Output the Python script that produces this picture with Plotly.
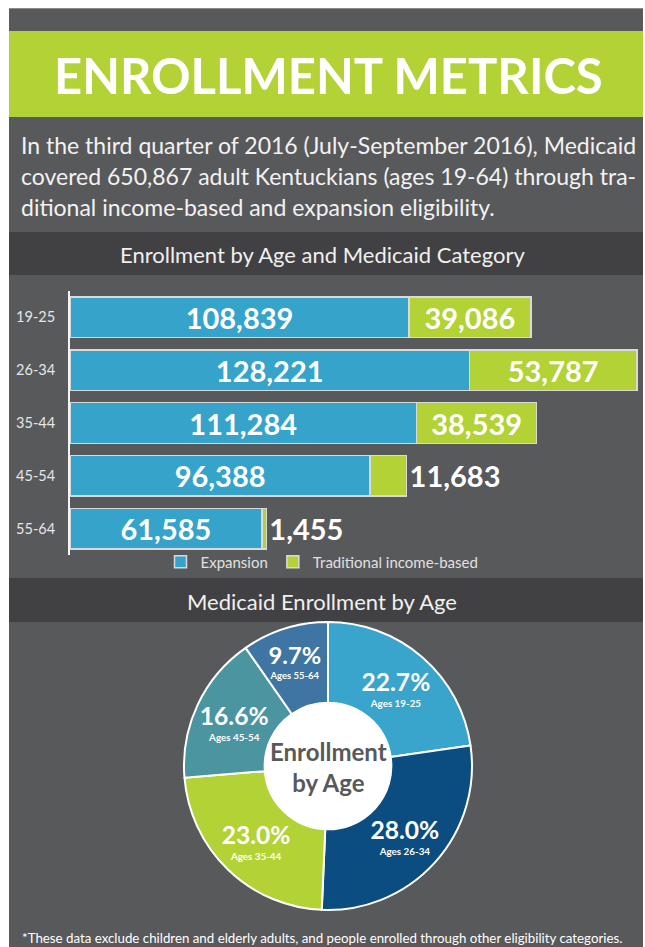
import plotly.graph_objects as go

# ---------------- data ----------------
age_groups = ["19-25", "26-34", "35-44", "45-54", "55-64"]
expansion = [108839, 128221, 111284, 96388, 61585]
traditional = [39086, 53787, 38539, 11683, 1455]
trad_text_pos = ["inside", "inside", "inside", "outside", "outside"]
pie_labels = ["Ages 19-25", "Ages 26-34", "Ages 35-44", "Ages 45-54", "Ages 55-64"]
pie_values = [e + t for e, t in zip(expansion, traditional)]  # totals per age group

title_text = "ENROLLMENT METRICS"
intro_lines = [
    "In the third quarter of 2016 (July-September 2016), Medicaid",
    "covered 650,867 adult Kentuckians (ages 19-64) through tra-",
    "ditional income-based and expansion eligibility.",
]
bar_header = "Enrollment by Age and Medicaid Category"
pie_header = "Medicaid Enrollment by Age"
center_text = "Enrollment<br>by Age"
footnote = "*These data exclude children and elderly adults, and people enrolled through other eligibility categories."

# ---------------- style ----------------
W, H = 645, 947
GREY = "#58595b"
DARK = "#414042"
GREEN = "#b2d235"
BLUE = "#36a4ca"
PIE_COLORS = ["#39a5cc", "#0b4d80", "#b2d235", "#4a95a0", "#3e75a3"]
BODY = "Lato, 'Open Sans', sans-serif"


def px(x):
    return x / W


def py(y):
    return 1 - y / H


fig = go.Figure()

fig.add_trace(go.Bar(
    y=age_groups, x=expansion, orientation="h", name="Expansion",
    marker=dict(color=BLUE, line=dict(color="#d9d9d9", width=1.5)),
    text=[f"{v:,}" for v in expansion], texttemplate="<b>%{text}</b>", textposition="inside",
    insidetextanchor="middle", constraintext="none",
    textfont=dict(family=BODY, size=29, color="white"),
    hoverinfo="skip", cliponaxis=False,
))
fig.add_trace(go.Bar(
    y=age_groups, x=traditional, orientation="h", name="Traditional income-based",
    marker=dict(color=GREEN, line=dict(color="#d9d9d9", width=1.5)),
    text=[f"{v:,}" for v in traditional], texttemplate="<b>%{text}</b>", textposition=trad_text_pos,
    insidetextanchor="middle", constraintext="none",
    textfont=dict(family=BODY, size=29, color="white"),
    outsidetextfont=dict(family=BODY, size=29, color="white"),
    hoverinfo="skip", cliponaxis=False,
))

fig.add_trace(go.Pie(
    labels=pie_labels, values=pie_values, sort=False, direction="clockwise",
    rotation=0, hole=0.44,
    marker=dict(colors=PIE_COLORS, line=dict(color="white", width=2)),
    texttemplate="<span style='font-size:25px'><b>%{percent:.1%}</b></span><br>"
                 "<span style='font-size:10px'><b>%{label}</b></span>",
    textposition="inside", insidetextorientation="horizontal",
    textfont=dict(family=BODY, size=12, color="white"),
    domain=dict(x=[px(184), px(472)], y=[py(910), py(622)]),
    showlegend=False, hoverinfo="skip",
))

shapes = [
    dict(type="rect", xref="paper", yref="paper", x0=px(9), x1=px(643), y0=0, y1=py(8),
         fillcolor=GREY, line=dict(width=0), layer="below"),
    dict(type="line", xref="paper", yref="paper", x0=px(9), x1=px(643), y0=py(8.5), y1=py(8.5),
         line=dict(color="#8a8b8d", width=1), layer="below"),
    dict(type="rect", xref="paper", yref="paper", x0=px(9), x1=px(643), y0=py(117), y1=py(31),
         fillcolor=GREEN, line=dict(width=0), layer="below"),
    dict(type="rect", xref="paper", yref="paper", x0=px(9), x1=px(643), y0=py(275), y1=py(232),
         fillcolor=DARK, line=dict(width=0), layer="below"),
    dict(type="rect", xref="paper", yref="paper", x0=px(9), x1=px(643), y0=py(622), y1=py(578),
         fillcolor=DARK, line=dict(width=0), layer="below"),
    dict(type="circle", xref="paper", yref="paper", x0=px(265), x1=px(391), y0=py(829), y1=py(703),
         fillcolor="white", line=dict(width=0), layer="below"),
]

annotations = [
    dict(text=f"<b>{title_text}</b>", x=px(329), y=py(75), xref="paper", yref="paper",
         showarrow=False, font=dict(family=BODY, size=49, color="white"), xanchor="center", yanchor="middle"),
    dict(text=bar_header, x=px(322), y=py(255), xref="paper", yref="paper",
         showarrow=False, font=dict(family=BODY, size=22, color="#f0f0f0"), xanchor="center", yanchor="middle"),
    dict(text=pie_header, x=px(322), y=py(601), xref="paper", yref="paper",
         showarrow=False, font=dict(family=BODY, size=22, color="#f0f0f0"), xanchor="center", yanchor="middle"),
    dict(text=f"<b>{center_text}</b>", x=px(328), y=py(767), xref="paper", yref="paper",
         showarrow=False, font=dict(family=BODY, size=24, color="#58595b"), xanchor="center", yanchor="middle"),
    dict(text=footnote, x=px(20), y=py(938), xref="paper", yref="paper",
         showarrow=False, font=dict(family=BODY, size=13.3, color="white"), xanchor="left", yanchor="middle"),
]
for i, line in enumerate(intro_lines):
    annotations.append(dict(text=line, x=px(19), y=py(145 + 31 * i), xref="paper", yref="paper",
                            showarrow=False, font=dict(family=BODY, size=23, color="#f2f2f2"),
                            xanchor="left", yanchor="middle"))

fig.update_layout(
    width=W, height=H, margin=dict(l=0, r=0, t=0, b=0),
    paper_bgcolor="white", plot_bgcolor="rgba(0,0,0,0)",
    barmode="stack", bargap=0.23,
    xaxis=dict(domain=[px(70), px(640)], range=[0, 183000], visible=False, fixedrange=True),
    yaxis=dict(domain=[py(555), py(291)], categoryorder="array", categoryarray=age_groups,
               autorange="reversed", showline=True, linecolor="#f5f5f5", linewidth=2,
               showgrid=False, zeroline=False, ticks="", ticklabelstandoff=10,
               tickfont=dict(family=BODY, size=14.5, color="#e6e6e6"), fixedrange=True),
    legend=dict(orientation="h", x=px(322), xanchor="center", y=py(562), yanchor="middle",
                font=dict(family=BODY, size=15, color="#e0e0e0"), bgcolor="rgba(0,0,0,0)",
                traceorder="normal"),
    shapes=shapes, annotations=annotations,
)

fig.write_html("out.html", config={"displayModeBar": False},
               post_script="document.body.style.margin='0';document.body.style.overflow='hidden';")
